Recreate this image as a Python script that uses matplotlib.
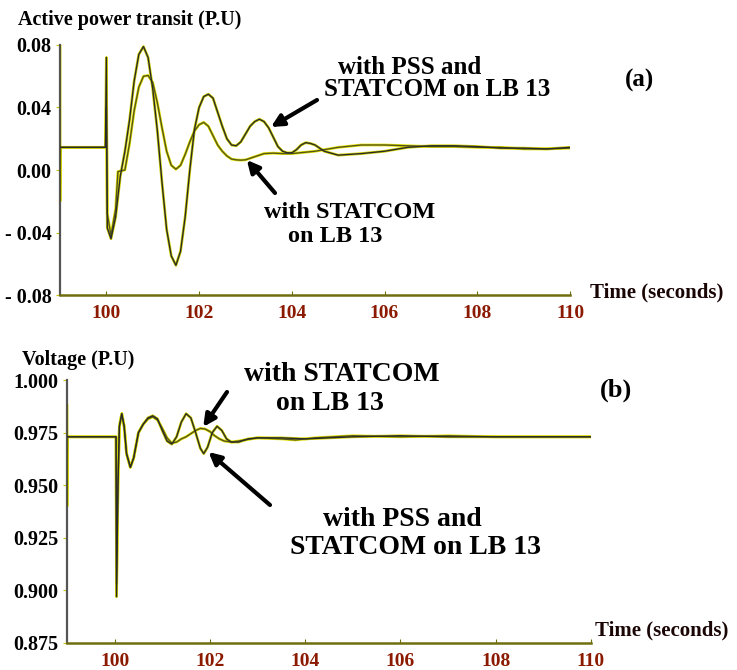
import matplotlib
matplotlib.use("Agg")
from matplotlib import pyplot as plt

# ---- data ----
# (a) active power transit, with PSS and STATCOM on LB 13
t_p_pss = [99.0, 99.98, 100.0, 100.02, 100.1, 100.2, 100.3, 100.4, 100.5, 100.6, 100.7,
           100.8, 100.9, 101.0, 101.1, 101.2, 101.3, 101.4, 101.5, 101.6, 101.7, 101.8,
           101.9, 102.0, 102.1, 102.2, 102.3, 102.4, 102.5, 102.6, 102.7, 102.8, 102.9,
           103.0, 103.1, 103.2, 103.3, 103.4, 103.5, 103.6, 103.7, 103.8, 103.9, 104.0,
           104.1, 104.2, 104.3, 104.4, 104.5, 104.7, 105.0, 105.5, 106.0, 106.5, 107.0,
           107.5, 108.0, 108.5, 109.0, 109.5, 110.0]
p_pss = [0.0145, 0.0145, 0.072, -0.037, -0.044, -0.030, -0.004, 0.012, 0.032, 0.057, 0.074,
         0.079, 0.072, 0.052, 0.025, -0.008, -0.038, -0.055, -0.061, -0.052, -0.030, 0.0,
         0.026, 0.040, 0.047, 0.0485, 0.046, 0.037, 0.028, 0.020, 0.016, 0.0155, 0.018,
         0.023, 0.028, 0.031, 0.0325, 0.031, 0.027, 0.021, 0.015, 0.012, 0.011, 0.011,
         0.013, 0.016, 0.0175, 0.017, 0.016, 0.012, 0.0095, 0.0105, 0.012, 0.0145, 0.0155,
         0.0155, 0.015, 0.014, 0.014, 0.0135, 0.0145]

# (a) active power transit, with STATCOM on LB 13
t_p_st = [99.0, 99.0, 99.01, 99.98, 100.0, 100.02, 100.1, 100.2, 100.25, 100.4, 100.5,
          100.6, 100.7, 100.8, 100.9, 101.0, 101.1, 101.2, 101.3, 101.4, 101.5, 101.6,
          101.7, 101.8, 101.9, 102.0, 102.1, 102.2, 102.3, 102.4, 102.5, 102.6, 102.7,
          102.8, 102.9, 103.0, 103.2, 103.4, 103.6, 103.8, 104.0, 104.5, 105.0, 105.5,
          106.0, 106.5, 107.0, 107.5, 108.0, 108.5, 109.0, 109.5, 110.0]
p_st = [0.08, -0.02, 0.0145, 0.0145, 0.040, -0.028, -0.042, -0.025, -0.001, 0.0, 0.017,
        0.038, 0.053, 0.060, 0.0605, 0.056, 0.043, 0.027, 0.012, 0.003, 0.0005, 0.003,
        0.010, 0.018, 0.025, 0.029, 0.0305, 0.028, 0.022, 0.016, 0.012, 0.009, 0.007,
        0.0065, 0.0063, 0.0065, 0.0085, 0.0105, 0.0108, 0.0105, 0.0105, 0.012, 0.0145, 0.016,
        0.016, 0.0155, 0.015, 0.015, 0.0145, 0.0145, 0.0135, 0.0135, 0.014]

# (b) voltage, with PSS and STATCOM on LB 13
t_v_pss = [99.0, 100.03, 100.04, 100.07, 100.1, 100.15, 100.2, 100.25, 100.33, 100.4, 100.5,
           100.6, 100.7, 100.8, 100.9, 101.0, 101.1, 101.2, 101.3, 101.4, 101.5, 101.6,
           101.7, 101.8, 101.87, 101.95, 102.05, 102.15, 102.25, 102.35, 102.45, 102.6,
           102.8, 103.0, 103.5, 104.0, 104.5, 105.0, 106.0, 107.0, 108.0, 109.0, 110.0]
v_pss = [0.973, 0.973, 0.897, 0.950, 0.978, 0.984, 0.978, 0.965, 0.9585, 0.963, 0.975,
         0.979, 0.982, 0.983, 0.9815, 0.976, 0.971, 0.9695, 0.973, 0.980, 0.984, 0.982,
         0.975, 0.9675, 0.965, 0.968, 0.975, 0.978, 0.976, 0.972, 0.9705, 0.9705,
         0.972, 0.9725, 0.9725, 0.972, 0.9725, 0.973, 0.9735, 0.973, 0.973, 0.973, 0.973]

# (b) voltage, with STATCOM on LB 13
t_v_st = [99.0, 99.0, 99.01, 100.03, 100.04, 100.07, 100.1, 100.15, 100.2, 100.25, 100.33,
          100.4, 100.5, 100.6, 100.7, 100.8, 100.9, 101.0, 101.1, 101.2, 101.3, 101.4, 101.5,
          101.6, 101.7, 101.8, 101.9, 102.0, 102.1, 102.2, 102.3, 102.45, 102.6, 103.0,
          103.5, 103.8, 104.2, 105.0, 106.0, 107.0, 108.0, 109.0, 110.0]
v_st = [0.988, 0.94, 0.973, 0.973, 0.903, 0.952, 0.978, 0.984, 0.978, 0.965, 0.9585,
        0.963, 0.975, 0.979, 0.9815, 0.9825, 0.981, 0.977, 0.9725, 0.970, 0.9705, 0.972, 0.973,
        0.9745, 0.976, 0.977, 0.9767, 0.9755, 0.9735, 0.972, 0.971, 0.9705, 0.971, 0.9725,
        0.972, 0.9715, 0.9725, 0.9735, 0.973, 0.9735, 0.973, 0.973, 0.973]

x_ticks = [100, 102, 104, 106, 108, 110]
p_ticks = [-0.08, -0.04, 0.0, 0.04, 0.08]
p_tick_labels = ["- 0.08", "- 0.04", "0.00", "0.04", "0.08"]
v_ticks = [0.875, 0.900, 0.925, 0.950, 0.975, 1.000]
v_tick_labels = ["0.875", "0.900", "0.925", "0.950", "0.975", "1.000"]

plt.rcParams['font.family'] = ['Liberation Serif', 'DejaVu Serif']
plt.rcParams['font.weight'] = 'bold'

W, H = 737, 670
fig = plt.figure(figsize=(W / 100, H / 100), dpi=100)


def fx(x, y):
    # figure pixels measured from top-left -> figure fraction
    return x / W, 1 - y / H


def draw_curve(ax, t, v, core, halo):
    ax.plot(t, v, color=halo, lw=2.0, solid_joinstyle='round', zorder=2)
    ax.plot(t, v, color=core, lw=1.0, zorder=3)


def style_axes(ax, xt, yt, ylabels):
    ax.set_xlim(99, 110)
    for s in ['top', 'right']:
        ax.spines[s].set_visible(False)
    ax.spines['left'].set_color('#555555')
    ax.spines['left'].set_linewidth(1.6)
    ax.spines['bottom'].set_color('#6e6e10')
    ax.spines['bottom'].set_linewidth(1.8)
    ax.set_xticks(xt)
    ax.set_xticklabels([str(x) for x in xt])
    ax.set_yticks(yt)
    ax.set_yticklabels(ylabels)
    ax.tick_params(axis='x', direction='in', length=3, color='#6e6e10', pad=7,
                   labelsize=14, labelcolor='#8b1a00')
    ax.tick_params(axis='y', direction='out', length=3, color='#c8c800', pad=3,
                   labelsize=14.5, labelcolor='black')
    ax.patch.set_alpha(0)


# ---- (a) ----
ax1 = fig.add_axes([60 / W, 1 - 295 / H, 510 / W, 250 / H])
draw_curve(ax1, t_p_st, p_st, '#55551c', '#e4e400')
draw_curve(ax1, t_p_pss, p_pss, '#2a2a2a', '#d2d200')
ax1.set_ylim(-0.08, 0.08)
style_axes(ax1, x_ticks, p_ticks, p_tick_labels)

# ---- (b) ----
ax2 = fig.add_axes([67 / W, 1 - 643 / H, 524 / W, 263 / H])
draw_curve(ax2, t_v_st, v_st, '#55551c', '#e4e400')
draw_curve(ax2, t_v_pss, v_pss, '#2a2a2a', '#d2d200')
ax2.set_ylim(0.875, 1.0)
style_axes(ax2, x_ticks, v_ticks, v_tick_labels)

# ---- texts ----
def ftext(x, y, s, size, ha='center', color='black'):
    fig.text(*fx(x, y), s, fontsize=size, ha=ha, va='center', color=color,
             fontweight='bold')


ftext(18, 20, "Active power transit (P.U)", 14.5, ha='left')
ftext(640, 80, "(a)", 18)
ftext(410, 67, "with PSS and", 18)
ftext(437, 90, "STATCOM on LB 13", 18)
ftext(350, 213, "with STATCOM", 17.5)
ftext(335, 236, "on LB 13", 17.5)
ftext(590, 292, "Time (seconds)", 15, ha='left', color='#1a0505')

ftext(22, 360, "Voltage (P.U)", 14.5, ha='left')
ftext(616, 390, "(b)", 19)
ftext(342, 375, "with STATCOM", 20)
ftext(330, 403, "on LB 13", 20)
ftext(402, 520, "with PSS and", 20)
ftext(415, 547, "STATCOM on LB 13", 20)
ftext(595, 630, "Time (seconds)", 15, ha='left', color='#1a0505')

# ---- arrows ----
arrow = dict(arrowstyle='-|>', color='black', lw=3, mutation_scale=18,
             shrinkA=0, shrinkB=0)
ax1.annotate('', xy=(103.55, 0.0275), xytext=(317, H - 100),
             textcoords='figure pixels', arrowprops=arrow)
ax1.annotate('', xy=(103.03, 0.0064), xytext=(275, H - 193),
             textcoords='figure pixels', arrowprops=arrow)
ax2.annotate('', xy=(101.86, 0.9777), xytext=(227, H - 392),
             textcoords='figure pixels', arrowprops=arrow)
ax2.annotate('', xy=(101.97, 0.9658), xytext=(270, H - 505),
             textcoords='figure pixels', arrowprops=arrow)

fig.savefig("out.png", dpi=100, facecolor='white')
